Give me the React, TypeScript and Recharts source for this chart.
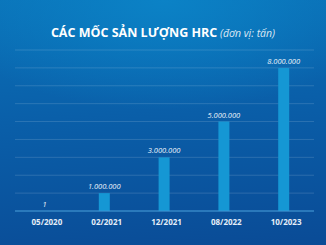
import { Bar, BarChart, CartesianGrid, LabelList, XAxis, YAxis } from "recharts";

const periods = ["05/2020", "02/2021", "12/2021", "08/2022", "10/2023"];
const output = [1, 1000000, 3000000, 5000000, 8000000];
const yTicks = [0, 1000000, 2000000, 3000000, 4000000, 5000000, 6000000, 7000000, 8000000, 9000000];

const data = periods.map((p, i) => ({ period: p, value: output[i] }));

const fmt = (v: number) => String(v).replace(/\B(?=(\d{3})+(?!\d))/g, ".");

function PeriodTick({ x, y, payload }: any) {
  return (
    <text
      x={x + 2}
      y={y + 2}
      textAnchor="middle"
      dominantBaseline="central"
      fontSize={8}
      fontWeight={700}
      fill="#e6eef8"
      fontFamily="'Open Sans', sans-serif"
    >
      {payload.value}
    </text>
  );
}

export default function App() {
  return (
    <div
      style={{
        position: "absolute",
        left: 0,
        top: 0,
        width: 326,
        height: 245,
        overflow: "hidden",
        background:
          "radial-gradient(ellipse 70% 45% at 50% 0%, #0b82c6 0%, rgba(11,120,190,0) 100%), linear-gradient(175deg, #0a72b8 0%, #0a5fa9 45%, #0a4b96 100%)",
        fontFamily: "'Open Sans', sans-serif",
      }}
    >
      <div
        style={{
          position: "absolute",
          top: 20,
          left: 0,
          width: 326,
          textAlign: "center",
          color: "#ffffff",
          whiteSpace: "nowrap",
        }}
      >
        <span style={{ fontSize: 12.5, fontWeight: 700 }}>CÁC MỐC SẢN LƯỢNG HRC</span>
        <span style={{ fontSize: 10.5, fontStyle: "italic", fontWeight: 400, color: "#dce8f5" }}> (đơn vị: tấn)</span>
      </div>
      <BarChart
        width={326}
        height={245}
        data={data}
        margin={{ top: 50, right: 12, bottom: 10, left: 15 }}
        style={{ position: "absolute", left: 0, top: 0 }}
      >
        <CartesianGrid vertical={false} horizontalValues={yTicks} stroke="rgba(255,255,255,0.14)" />
        <YAxis hide domain={[0, 9000000]} ticks={yTicks} interval={0} />
        <XAxis
          dataKey="period"
          height={24}
          tickLine={false}
          axisLine={{ stroke: "#3b95d4", strokeWidth: 1 }}
          tick={<PeriodTick />}
          interval={0}
        />
        <Bar dataKey="value" fill="#1597d4" barSize={11} isAnimationActive={false}>
          <LabelList
            dataKey="value"
            position="top"
            offset={4}
            formatter={(v: any) => fmt(Number(v))}
            fill="#eef4fb"
            fontSize={7.5}
            fontStyle="italic"
            fontFamily="'Open Sans', sans-serif"
          />
        </Bar>
      </BarChart>
    </div>
  );
}
